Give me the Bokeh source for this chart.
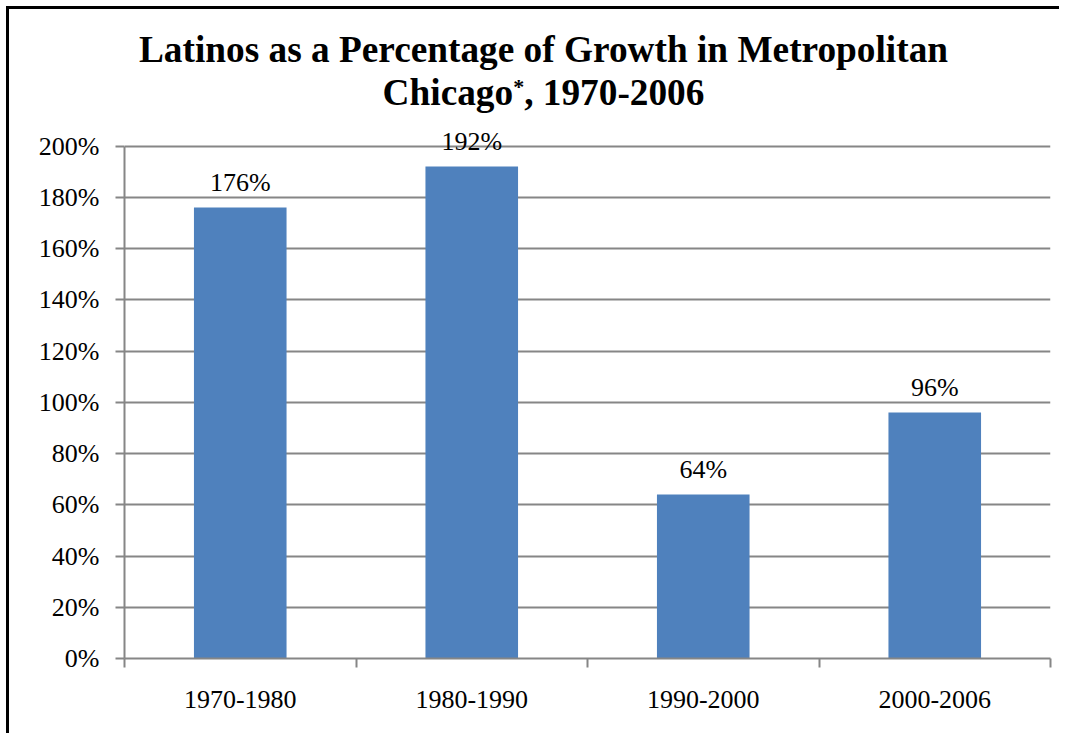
from bokeh.plotting import figure
from bokeh.models import (ColumnDataSource, FixedTicker, PrintfTickFormatter,
                          LabelSet, Range1d, Div, GlobalInlineStyleSheet)
from bokeh.layouts import column, row
from bokeh.embed import file_html
from bokeh.resources import INLINE

periods = ["1970-1980", "1980-1990", "1990-2000", "2000-2006"]
shares = [176, 192, 64, 96]
share_labels = ["176%", "192%", "64%", "96%"]
y_ticks = [0, 20, 40, 60, 80, 100, 120, 140, 160, 180, 200]
title_line1 = "Latinos as a Percentage of Growth in Metropolitan"
title_line2a = "Chicago"
title_note = "*"
title_line2b = ", 1970-2006"

xs = [i + 0.5 for i in range(len(periods))]
bounds = [i for i in range(len(periods) + 1)]
source = ColumnDataSource(data=dict(x=xs, top=shares, label=share_labels, period=periods))

FONT = "Liberation Serif"
GRAY = "#868686"

title = Div(
    text=(f'<div style="box-sizing:content-box; width:1031px; height:86px; overflow:hidden; '
          f'text-align:center; padding-left:19px; padding-top:19px; '
          f'font-family:\'{FONT}\'; font-weight:bold; font-size:37.3px; line-height:43px; '
          f'color:black; white-space:nowrap;">'
          f'{title_line1}<br>{title_line2a}'
          f'<span style="font-size:22px; line-height:0; position:relative; top:-11px;">'
          f'{title_note}</span>{title_line2b}</div>'),
    width=1053, height=105, margin=0)

Y_MAX = 210
p = figure(frame_width=926, frame_height=538,
           min_border_left=115, min_border_right=12,
           min_border_top=6, min_border_bottom=76,
           x_range=Range1d(0, len(periods)), y_range=Range1d(0, Y_MAX),
           output_backend="svg", toolbar_location=None, tools="", margin=0)
p.outline_line_color = None
p.background_fill_color = "white"
p.border_fill_color = "white"

p.vbar(x="x", top="top", width=0.4, source=source,
       fill_color="#4F81BD", line_color=None)

p.add_layout(LabelSet(x="x", y="top", text="label", source=source,
                      text_align="center", text_baseline="alphabetic",
                      y_offset=17, text_font=FONT, text_font_size="26px",
                      text_color="black"))

# X axis
p.xaxis.ticker = FixedTicker(ticks=xs, minor_ticks=bounds)
p.xaxis.major_label_overrides = {x: lab for x, lab in zip(xs, periods)}
p.xaxis.major_tick_line_color = None
p.xaxis.major_tick_out = 0
p.xaxis.major_tick_in = 0
p.xaxis.minor_tick_line_color = GRAY
p.xaxis.minor_tick_line_width = 2
p.xaxis.minor_tick_out = 9
p.xaxis.minor_tick_in = 0
p.xaxis.major_label_standoff = 23
p.xaxis.major_label_text_font = FONT
p.xaxis.major_label_text_font_size = "26px"
p.xaxis.major_label_text_color = "black"
p.xaxis.axis_line_color = GRAY
p.xaxis.axis_line_width = 2

# Y axis
p.yaxis.ticker = FixedTicker(ticks=y_ticks)
p.yaxis.bounds = (y_ticks[0], y_ticks[-1])
p.yaxis.formatter = PrintfTickFormatter(format="%d%%")
p.yaxis.major_tick_line_color = GRAY
p.yaxis.major_tick_line_width = 2
p.yaxis.major_tick_out = 9
p.yaxis.major_tick_in = 0
p.yaxis.minor_tick_line_color = None
p.yaxis.major_label_standoff = 16
p.yaxis.major_label_text_font = FONT
p.yaxis.major_label_text_font_size = "26px"
p.yaxis.major_label_text_color = "black"
p.yaxis.axis_line_color = GRAY
p.yaxis.axis_line_width = 2

p.xgrid.grid_line_color = None
p.ygrid.grid_line_color = GRAY
p.ygrid.grid_line_width = 2
p.ygrid.ticker = FixedTicker(ticks=y_ticks)

# Outer chart frame: only its left and top edges fall inside the picture
top_edge = Div(text="", width=1053, height=3, margin=(6, 0, 0, 6),
               styles={"background-color": "black"})
left_edge = Div(text="", width=3, height=724, margin=(0, 0, 0, 6),
                styles={"background-color": "black"})

layout = column(top_edge, row(left_edge, column(title, p, spacing=0, margin=0),
                              spacing=0, margin=0),
                spacing=0, margin=0)
layout.stylesheets = [GlobalInlineStyleSheet(css="html, body { overflow: hidden; }")]

open("out.html", "w").write(file_html(layout, INLINE))
